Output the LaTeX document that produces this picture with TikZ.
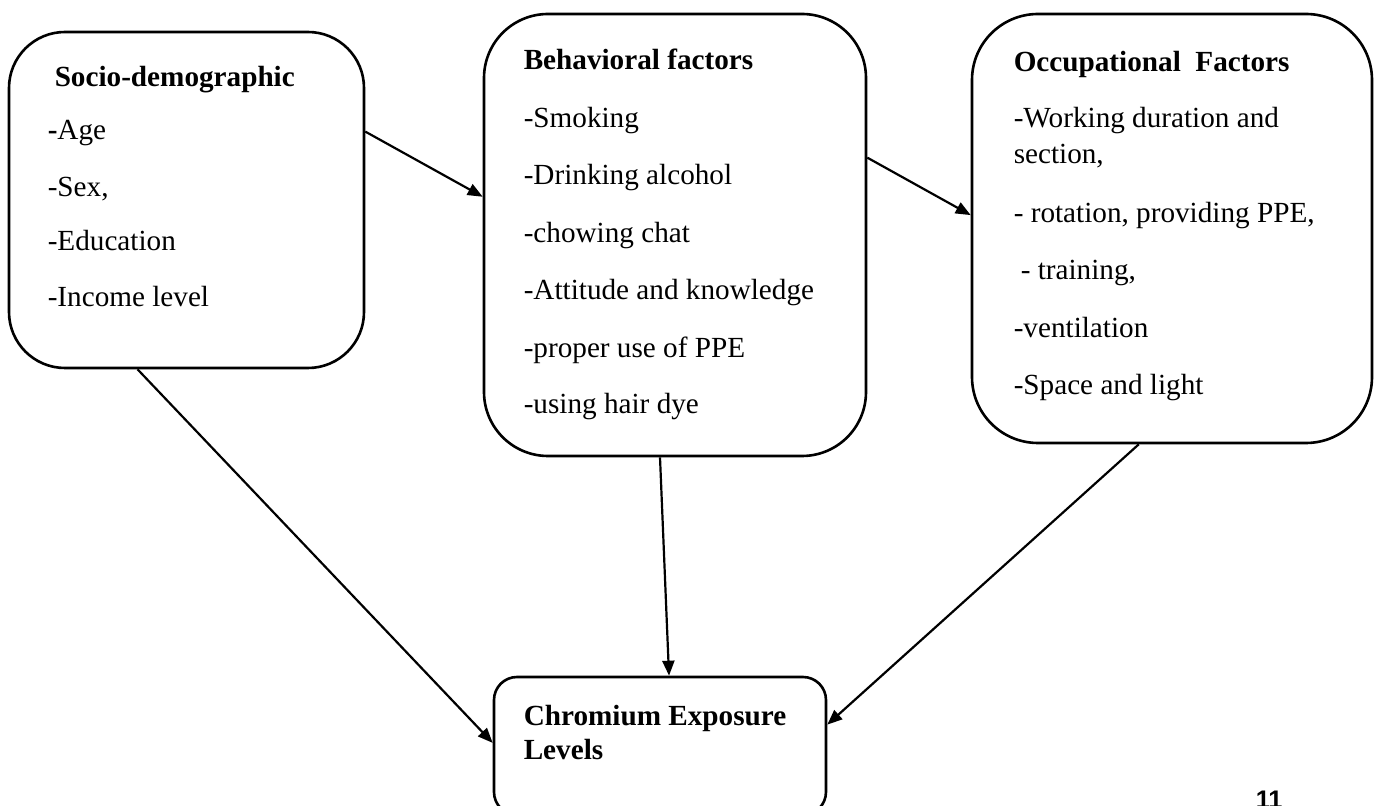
\documentclass[tikz,border=0pt]{standalone}
\usepackage{fontspec}
\setmainfont{Liberation Serif}
\newfontfamily\pagenumfont{Liberation Sans}
\usetikzlibrary{calc,arrows.meta}

\tikzset{every picture/.style={line width=0.75pt}}
\tikzset{
  factorbox/.style={draw, line width=1.3pt, rounded corners=#1, inner sep=0pt},
  itemtext/.style={anchor=base west, inner sep=0pt, font=\fontsize{14.6}{18}\selectfont},
  headtext/.style={anchor=base west, inner sep=0pt, font=\fontsize{14.6}{18}\selectfont\bfseries},
  link/.style={line width=1.1pt, -{Triangle[length=7.5pt,width=6pt]}}
}

\begin{document}
\begin{tikzpicture}[x=0.5pt,y=0.5pt,yscale=-1,xscale=1]
\useasboundingbox (0,0) rectangle (1378,806);

% Boxes
\node [factorbox=28pt, minimum width=177.5pt, minimum height=168pt] (socio) at (186.5,200) {};
\node [factorbox=32pt, minimum width=191pt, minimum height=221pt] (behav) at (675,235) {};
\node [factorbox=33pt, minimum width=200pt, minimum height=214.5pt] (occup) at (1172,228.5) {};
\node [factorbox=11.5pt, minimum width=166pt, minimum height=69pt] (chrom) at (660,746) {};

% Text Node
\node [headtext] (sociohead) at (54,87) {Socio-demographic};
\node [itemtext] (age) at (47,140) {\textbf{-}Age};
\node [itemtext] (sex) at (47,197) {-Sex,};
\node [itemtext] (edu) at (47,251) {-Education};
\node [itemtext] (income) at (47,307) {-Income level};
% Text Node
\node [headtext] (behavhead) at (523,70) {Behavioral factors};
\node [itemtext] (smoking) at (523,128) {-Smoking};
\node [itemtext] (alcohol) at (523,185) {-Drinking alcohol};
\node [itemtext] (chat) at (523,243) {-chowing chat};
\node [itemtext] (attitude) at (523,300) {-Attitude and knowledge};
\node [itemtext] (ppeuse) at (523,358) {-proper use of PPE};
\node [itemtext] (hairdye) at (523,414) {-using hair dye};
% Text Node
\node [headtext] (occuphead) at (1013,72) {Occupational\ \ Factors};
\node [itemtext] (working) at (1013,128) {-Working duration and};
\node [itemtext] (section) at (1013,164) {section,};
\node [itemtext] (rotation) at (1013,223) {- rotation, providing PPE,};
\node [itemtext] (training) at (1020,280) {- training,};
\node [itemtext] (ventil) at (1013,338) {-ventilation};
\node [itemtext] (space) at (1013,395) {-Space and light};
% Text Node
\node [headtext] (chromhead) at (523,726) {Chromium Exposure};
\node [headtext] (levels) at (523,760) {Levels};
\node [anchor=base west, inner sep=0pt, font=\pagenumfont\bfseries\fontsize{12.7}{15}\selectfont] (pagenum) at (1255,809) {11};

% Connection
\draw [link] ($(socio.north east)!0.298!(socio.south east)$) -- ($(behav.north west)!0.414!(behav.south west)$);
% Connection
\draw [link] ($(behav.north east)!0.326!(behav.south east)$) -- ($(occup.north west)!0.469!(occup.south west)$);
% Connection
\draw [link] ($(socio.south west)!0.363!(socio.south east)$) -- ($(chrom.north west)!0.478!(chrom.south west)$);
% Connection
\draw [link] ($(behav.south west)!0.461!(behav.south east)$) -- ($(chrom.north west)!0.527!(chrom.north east)$);
% Connection
\draw [link] ($(occup.south west)!0.4175!(occup.south east)$) -- ($(chrom.north east)!0.348!(chrom.south east)$);

\end{tikzpicture}
\end{document}
